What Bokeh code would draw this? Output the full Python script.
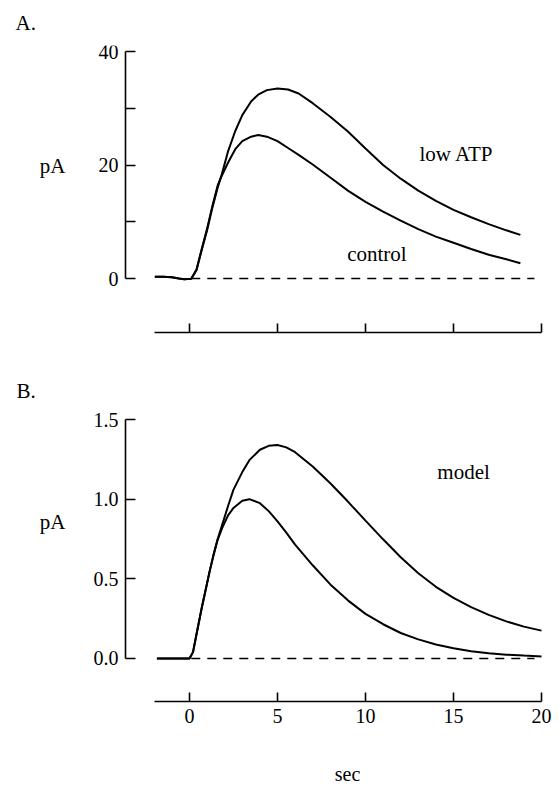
from bokeh.plotting import figure
from bokeh.layouts import column
from bokeh.models import FixedTicker, Label, PrintfTickFormatter, Range1d
from bokeh.embed import file_html
from bokeh.resources import INLINE

# ---------------- data ----------------
# Panel A: measured currents (pA)
t_a = [-1.97, -1.5, -1.0, -0.6, -0.3, 0.1, 0.4, 0.65, 1.0, 1.3, 1.6, 1.8,
       2.2, 2.6, 3.0, 3.5, 3.9, 4.4, 5.0, 5.6, 6.2, 7.0, 8.0, 9.0, 10.0,
       11.0, 12.0, 13.0, 14.0, 15.0, 16.0, 17.0, 18.0, 18.8]
low_atp = [0.3, 0.3, 0.25, 0.0, -0.1, -0.05, 1.5, 4.5, 8.5, 12.5, 16.0, 18.0,
           22.5, 26.0, 28.8, 31.2, 32.4, 33.2, 33.5, 33.3, 32.6, 30.9, 28.5, 25.9, 22.9,
           20.0, 17.6, 15.5, 13.7, 12.1, 10.8, 9.6, 8.5, 7.7]
control = [0.3, 0.3, 0.25, 0.0, -0.1, -0.05, 1.6, 4.7, 8.8, 12.8, 16.4, 17.9,
           20.5, 22.8, 24.2, 25.0, 25.3, 25.0, 24.2, 23.0, 21.8, 20.1, 17.8, 15.5, 13.5,
           11.8, 10.2, 8.7, 7.4, 6.3, 5.2, 4.2, 3.4, 2.7]

# Panel B: model currents (pA)
t_b = [-1.85, 0.0, 0.2, 0.44, 0.7, 0.91, 1.15, 1.38, 1.6, 1.86, 2.2, 2.5, 3.0,
       3.4, 4.0, 4.5, 5.0, 5.5, 6.0, 7.0, 8.0, 9.0, 10.0, 11.0, 12.0, 13.0,
       14.0, 15.0, 16.0, 17.0, 18.0, 19.0, 20.0]
model_high = [0.0, 0.0, 0.04, 0.176, 0.32, 0.427, 0.55, 0.657, 0.75, 0.84, 0.96, 1.06, 1.17,
              1.245, 1.31, 1.335, 1.34, 1.325, 1.295, 1.205, 1.1, 0.985, 0.865, 0.748, 0.635, 0.535,
              0.45, 0.38, 0.322, 0.274, 0.233, 0.2, 0.175]
model_low = [0.0, 0.0, 0.04, 0.176, 0.32, 0.427, 0.55, 0.655, 0.745, 0.82, 0.9, 0.945, 0.99,
             1.0, 0.975, 0.925, 0.86, 0.79, 0.715, 0.585, 0.465, 0.365, 0.28, 0.215, 0.16, 0.12,
             0.088, 0.064, 0.046, 0.033, 0.024, 0.018, 0.013]

baseline_t = [0.1, 19.6]
baseline_v = [0.0, 0.0]

x_ticks = [0, 5, 10, 15, 20]
a_yticks = [0, 20, 40]
a_yminor = [10, 30]
b_yticks = [0.0, 0.5, 1.0, 1.5]

FONT = "Liberation Serif"
FS = "20px"
FS_WORD = "21px"
X_START = -8.693      # frame left edge (screen x = 36)
Y_AXIS_AT = -3.636    # where the vertical axis is drawn
W = 558


def base_fig(height, x_range, yr, top, bottom):
    p = figure(width=W, height=height, output_backend="svg", toolbar_location=None,
               x_range=x_range, y_range=yr,
               min_border_left=36, min_border_right=13,
               min_border_top=top, min_border_bottom=bottom)
    p.outline_line_color = None
    p.grid.visible = False
    p.background_fill_color = "white"
    p.border_fill_color = "white"
    for ax in (p.xaxis[0], p.yaxis[0]):
        ax.axis_line_width = 1.6
        ax.major_tick_line_width = 1.6
        ax.minor_tick_line_width = 1.6
        ax.axis_line_color = "black"
        ax.major_tick_line_color = "black"
        ax.major_label_text_font = FONT
        ax.major_label_text_font_size = FS
        ax.major_label_text_color = "black"
    xa = p.xaxis[0]
    xa.bounds = (-1.97, 20)
    xa.ticker = FixedTicker(ticks=x_ticks)
    xa.major_tick_in = 9
    xa.major_tick_out = 0
    xa.minor_tick_line_color = None
    xa.major_label_standoff = 7
    ya = p.yaxis[0]
    ya.fixed_location = Y_AXIS_AT
    ya.major_tick_in = 10
    ya.major_tick_out = 0
    ya.minor_tick_in = 10
    ya.minor_tick_out = 0
    ya.major_label_standoff = 7
    return p


def strip(height, x_range, yr, left=0, right=0):
    """A text-only band (no axes) used for the panel letters and the x-axis title."""
    p = figure(width=W, height=height, output_backend="svg", toolbar_location=None,
               x_range=x_range, y_range=yr, x_axis_location=None, y_axis_location=None,
               min_border_left=left, min_border_right=right, min_border_top=0,
               min_border_bottom=0)
    p.frame_align = False
    p.outline_line_color = None
    p.grid.visible = False
    p.background_fill_color = "white"
    p.border_fill_color = "white"
    return p


def label(p, x, y, text, align="left", baseline="middle", size=FS_WORD):
    p.add_layout(Label(x=x, y=y, text=text, text_font=FONT, text_font_size=size,
                       text_color="black", text_align=align, text_baseline=baseline))


# ---------------- top band: "A." ----------------
top_band = strip(40, Range1d(0, W), Range1d(40, 0))
label(top_band, 15, 22, "A.")

# ---------------- Panel A ----------------
pa = base_fig(330, Range1d(X_START, 20.227), Range1d(-9.50, 41.06), 5, 38)
pa.yaxis[0].bounds = (0, 40)
pa.yaxis[0].ticker = FixedTicker(ticks=a_yticks, minor_ticks=a_yminor)
pa.yaxis[0].minor_tick_line_color = "black"
pa.xaxis[0].major_label_overrides = {t: "" for t in x_ticks}

pa.line(baseline_t, baseline_v, line_color="black", line_width=1.4, line_dash="9 7")
pa.line(t_a, low_atp, line_color="black", line_width=2)
pa.line(t_a, control, line_color="black", line_width=2)

label(pa, -7.78, 19.9, "pA", align="center")
label(pa, 15.17, 22.0, "low ATP", align="center")
label(pa, 10.65, 4.4, "control", align="center")

# ---------------- middle band: "B." ----------------
mid_band = strip(35, Range1d(0, W), Range1d(35, 0))
label(mid_band, 16, 20, "B.")

# ---------------- Panel B ----------------
xr_b = Range1d(X_START, 20.227)
pb = base_fig(336, xr_b, Range1d(-0.270, 1.544), 7, 40)
pb.yaxis[0].bounds = (0, 1.5)
pb.yaxis[0].ticker = FixedTicker(ticks=b_yticks)
pb.yaxis[0].minor_tick_line_color = None
pb.yaxis[0].formatter = PrintfTickFormatter(format="%.1f")

pb.line(baseline_t, baseline_v, line_color="black", line_width=1.4, line_dash="9 7")
pb.line(t_b, model_high, line_color="black", line_width=2)
pb.line(t_b, model_low, line_color="black", line_width=2)

label(pb, -7.78, 0.854, "pA", align="center")
label(pb, 15.57, 1.168, "model", align="center")

# ---------------- bottom band: x-axis title ----------------
bottom_band = strip(44, xr_b, Range1d(44, 0), left=36, right=13)
label(bottom_band, 8.98, 32.5, "sec", align="center", size=FS)

layout = column(top_band, pa, mid_band, pb, bottom_band, spacing=0)
open("out.html", "w").write(file_html(layout, INLINE))
